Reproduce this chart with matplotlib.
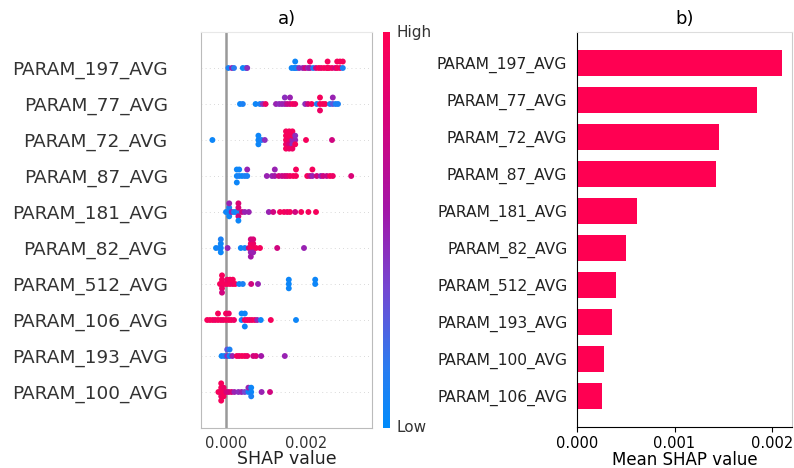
import numpy as np
import matplotlib
matplotlib.use("Agg")
import matplotlib.pyplot as plt
from matplotlib.colors import LinearSegmentedColormap
from matplotlib.cm import ScalarMappable
from matplotlib.ticker import FormatStrFormatter

# SHAP values are stored in units of 1e-3
UNIT = 1e-3

# Beeswarm features, top to bottom
swarm_features = ["PARAM_197_AVG", "PARAM_77_AVG", "PARAM_72_AVG", "PARAM_87_AVG",
                  "PARAM_181_AVG", "PARAM_82_AVG", "PARAM_512_AVG", "PARAM_106_AVG",
                  "PARAM_193_AVG", "PARAM_100_AVG"]

shap_197 = [0.06, 0.15, 0.20, 0.42, 0.50, 0.53, 1.64, 1.70, 1.73, 1.73, 1.77, 1.83, 1.92,
            1.98, 2.05, 2.10, 2.10, 2.18, 2.25, 2.32, 2.38, 2.45, 2.52, 2.54, 2.54, 2.58,
            2.65, 2.73, 2.78, 2.78, 2.85, 2.85, 2.92, 2.92]
feat_197 = [0.1, 0.5, 0.15, 0.05, 0.1, 0.45, 0.05, 0.1, 0.05, 0.05, 0.1, 0.45, 0.5,
            0.75, 0.5, 0.55, 0.95, 0.1, 0.75, 0.95, 0.9, 0.95, 0.9, 0.95, 0.95, 0.95,
            0.9, 0.75, 0.95, 0.95, 0.9, 0.95, 0.1, 0.95]

shap_77 = [0.35, 0.42, 0.74, 0.85, 0.92, 0.99, 1.25, 1.33, 1.40, 1.47, 1.47, 1.53, 1.60,
           1.60, 1.67, 1.73, 1.98, 2.05, 2.14, 2.27, 2.35, 2.35, 2.35, 2.42, 2.48, 2.60,
           2.67, 2.67, 2.74, 2.80]
feat_77 = [0.05, 0.1, 0.05, 0.1, 0.45, 0.9, 0.5, 0.45, 0.5, 0.5, 0.45, 0.7, 0.75,
           0.5, 0.95, 0.9, 0.45, 0.75, 0.95, 0.1, 0.95, 0.95, 0.9, 0.95, 0.95, 0.1,
           0.3, 0.5, 0.1, 0.1]

shap_72 = [-0.34, 0.81, 0.81, 0.81, 0.89, 0.97,
           1.50, 1.50, 1.50, 1.50, 1.50,
           1.58, 1.58, 1.58, 1.58, 1.58,
           1.66, 1.66, 1.66, 1.66, 1.66,
           1.73, 1.73, 1.73, 2.00, 2.65]
feat_72 = [0.05, 0.05, 0.05, 0.05, 0.1, 0.45,
           0.95, 0.95, 0.9, 0.95, 0.95,
           0.9, 0.95, 0.75, 0.95, 0.9,
           0.5, 0.95, 0.45, 0.95, 0.9,
           0.5, 0.45, 0.95, 0.95, 0.75]

shap_87 = [0.27, 0.27, 0.27, 0.33, 0.33, 0.40, 0.47, 0.53, 0.53, 1.02, 1.15, 1.22, 1.22,
           1.32, 1.40, 1.47, 1.53, 1.60, 1.68, 1.75, 1.75, 2.03, 2.10, 2.16, 2.16, 2.27,
           2.37, 2.43, 2.52, 2.60, 2.67, 3.13]
feat_87 = [0.05, 0.05, 0.05, 0.1, 0.05, 0.05, 0.1, 0.1, 0.5, 0.5, 0.5, 0.55, 0.5,
           0.75, 0.7, 0.75, 0.8, 0.9, 0.95, 0.95, 0.95, 0.95, 0.75, 0.5, 0.95, 0.75,
           0.5, 0.75, 0.7, 0.95, 0.9, 0.8]

shap_181 = [0.00, 0.08, 0.08, 0.08, 0.08, 0.14, 0.20, 0.25, 0.31, 0.31, 0.31, 0.31, 0.31,
            0.40, 0.47, 0.57, 1.07, 1.18, 1.35, 1.45, 1.53, 1.60, 1.73, 1.88, 2.06, 2.25]
feat_181 = [0.05, 0.05, 0.1, 0.05, 0.5, 0.5, 0.1, 0.05, 0.1, 0.8, 0.75, 0.8, 0.05,
            0.75, 0.5, 0.5, 0.5, 0.75, 0.95, 0.95, 0.9, 0.95, 0.75, 0.95, 0.95, 0.95]

shap_82 = [-0.25, -0.17, -0.13, -0.13, -0.13, -0.13, 0.04, 0.37, 0.47, 0.57,
           0.62, 0.62, 0.62, 0.62, 0.62, 0.68, 0.68, 0.68, 0.68, 0.75, 0.85, 1.28, 1.95]
feat_82 = [0.05, 0.1, 0.05, 0.05, 0.05, 0.1, 0.5, 0.05, 0.1, 0.75,
           0.95, 0.95, 0.5, 0.75, 0.55, 0.95, 0.9, 0.5, 0.8, 0.95, 0.95, 0.75, 0.5]

shap_512 = [-0.15, -0.10, -0.10, -0.10, -0.10, -0.10, -0.03, 0.03, 0.03, 0.10, 0.10,
            0.17, 0.17, 0.23, 0.33, 0.42, 0.63, 0.80, 1.57, 1.57, 1.57, 2.23, 2.23]
feat_512 = [0.95, 0.95, 0.95, 0.9, 0.95, 0.75, 0.95, 0.95, 0.9, 0.95, 0.95,
            0.9, 0.95, 0.95, 0.05, 0.1, 0.75, 0.5, 0.05, 0.05, 0.05, 0.05, 0.05]

shap_106 = [-0.47, -0.40, -0.33, -0.27, -0.20, -0.20, -0.13, -0.07, 0.00, 0.00, 0.07, 0.07,
            0.13, 0.20, 0.39, 0.39, 0.47, 0.47, 0.47, 0.53, 0.59, 0.65, 0.72, 0.78, 0.87,
            1.12, 1.75]
feat_106 = [0.95, 0.95, 0.95, 0.9, 0.95, 0.95, 0.95, 0.9, 0.95, 0.95, 0.95, 0.9,
            0.95, 0.9, 0.05, 0.05, 0.9, 0.05, 0.05, 0.95, 0.95, 0.9, 0.95, 0.5, 0.05,
            0.95, 0.05]

shap_193 = [-0.11, -0.04, 0.03, 0.03, 0.09, 0.09, 0.16, 0.27, 0.33, 0.40, 0.47, 0.53,
            0.68, 0.75, 0.88, 1.47]
feat_193 = [0.05, 0.1, 0.45, 0.3, 0.05, 0.1, 0.5, 0.95, 0.9, 0.95, 0.95, 0.9,
            0.75, 0.8, 0.55, 0.5]

shap_100 = [-0.19, -0.12, -0.12, -0.12, -0.12, -0.12, -0.06, -0.06, -0.06, 0.01, 0.07,
            0.14, 0.21, 0.31, 0.39, 0.47, 0.56, 0.56, 0.63, 0.63, 0.63, 0.89, 1.10]
feat_100 = [0.95, 0.95, 0.95, 0.9, 0.95, 0.95, 0.95, 0.9, 0.95, 0.8, 0.75,
            0.8, 0.5, 0.45, 0.5, 0.35, 0.05, 0.5, 0.05, 0.05, 0.1, 0.5, 0.75]

swarm_shap = [shap_197, shap_77, shap_72, shap_87, shap_181,
              shap_82, shap_512, shap_106, shap_193, shap_100]
swarm_feat = [feat_197, feat_77, feat_72, feat_87, feat_181,
              feat_82, feat_512, feat_106, feat_193, feat_100]

# Bar chart: mean |SHAP| per feature, top to bottom
bar_features = ["PARAM_197_AVG", "PARAM_77_AVG", "PARAM_72_AVG", "PARAM_87_AVG",
                "PARAM_181_AVG", "PARAM_82_AVG", "PARAM_512_AVG", "PARAM_193_AVG",
                "PARAM_100_AVG", "PARAM_106_AVG"]
mean_shap = [2.10, 1.85, 1.46, 1.43, 0.62, 0.50, 0.40, 0.36, 0.28, 0.26]

red_blue = LinearSegmentedColormap.from_list(
    "red_blue",
    [(0.0, "#008bfb"), (0.15, "#2a7cf0"), (0.35, "#7447d2"),
     (0.55, "#a316a8"), (0.78, "#d6037a"), (1.0, "#ff0052")])


def swarm_offsets(values, nbins=100, row_height=0.4):
    """Vertical jitter in the style of a SHAP beeswarm."""
    v = np.asarray(values, dtype=float)
    quant = np.round(nbins * (v - v.min()) / (v.max() - v.min() + 1e-8))
    order = np.argsort(quant, kind="stable")
    ys = np.zeros(len(v))
    layer, last = 0, None
    for i in order:
        if quant[i] != last:
            layer = 0
        ys[i] = np.ceil(layer / 2) * ((layer % 2) * 2 - 1)
        layer += 1
        last = quant[i]
    ys *= 0.9 * (row_height / np.max(ys + 1))
    return ys


W, H = 794, 468
fig = plt.figure(figsize=(W / 100, H / 100), dpi=100)
ax1 = fig.add_axes([201 / W, 1 - 428 / H, 171 / W, 396 / H])
cax = fig.add_axes([383 / W, 1 - 428 / H, 7 / W, 396 / H])
ax2 = fig.add_axes([577 / W, 1 - 427 / H, 215 / W, 395 / H])

# ---- a) beeswarm ----
n = len(swarm_features)
ax1.axvline(0, color="#999999", lw=1.8, zorder=1)
for i, (sv, fv) in enumerate(zip(swarm_shap, swarm_feat)):
    pos = n - 1 - i
    ax1.axhline(pos, color="#cccccc", lw=0.6, dashes=(1, 4), zorder=0)
    x = np.asarray(sv) * UNIT
    y = pos + swarm_offsets(sv)
    ax1.scatter(x, y, c=fv, cmap=red_blue, vmin=0, vmax=1, s=18,
                linewidths=0, zorder=3)
ax1.set_ylim(-1, n)
ax1.set_xlim(-0.000625, 0.00365)
ax1.set_yticks(range(n))
ax1.set_yticklabels(swarm_features[::-1], fontsize=13.3, color="#333333")
ax1.tick_params(axis="y", length=0, pad=24)
ax1.set_xticks([0.0, 0.002])
ax1.xaxis.set_major_formatter(FormatStrFormatter("%.3f"))
ax1.tick_params(axis="x", length=0, labelsize=10.5, labelcolor="#333333", pad=6)
ax1.set_xlabel("SHAP value", fontsize=12.5, color="#222222", labelpad=-1)
for side in ["left", "right", "bottom"]:
    ax1.spines[side].set_color("#bbbbbb")
ax1.spines["top"].set_color("#e8e8e8")
ax1.set_title("a)", fontsize=13, pad=6)

sm = ScalarMappable(cmap=red_blue)
sm.set_array([0, 1])
cb = fig.colorbar(sm, cax=cax, ticks=[])
cb.outline.set_visible(False)
cax.text(1.9, 1.0, "High", transform=cax.transAxes, ha="left", va="center",
         fontsize=11, color="#333333")
cax.text(1.9, 0.0, "Low", transform=cax.transAxes, ha="left", va="center",
         fontsize=11, color="#333333")

# ---- b) mean SHAP bars ----
m = len(bar_features)
bar_pos = np.arange(m)[::-1]
ax2.barh(bar_pos, np.asarray(mean_shap) * UNIT, height=0.7, color="#ff0052")
ax2.set_yticks(bar_pos)
ax2.set_yticklabels(bar_features, fontsize=11.2, color="#222222")
ax2.tick_params(axis="y", length=0, pad=7)
ax2.set_xticks([0.0, 0.001, 0.002])
ax2.xaxis.set_major_formatter(FormatStrFormatter("%.3f"))
ax2.tick_params(axis="x", labelsize=10.5, length=3.5, pad=3)
ax2.set_xlabel("Mean SHAP value", fontsize=12, labelpad=0)
ax2.spines["top"].set_color("#dddddd")
ax2.spines["right"].set_color("#cccccc")
ax2.set_title("b)", fontsize=13, pad=6)

fig.savefig("out.png", dpi=100)
